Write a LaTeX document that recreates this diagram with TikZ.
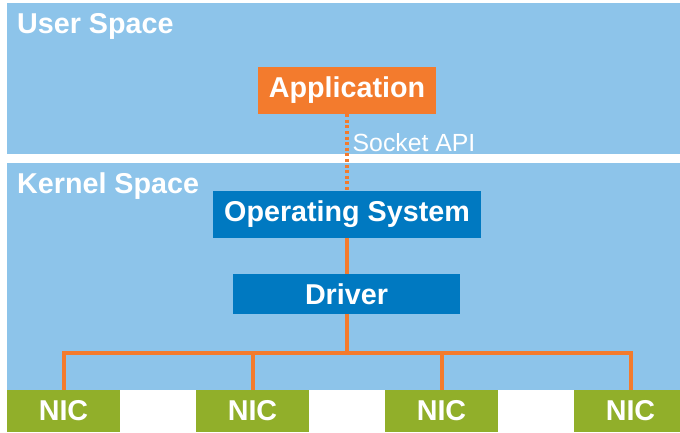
\documentclass[tikz,border=0pt]{standalone}
\usepackage{fontspec}
\setmainfont{Liberation Sans}
\definecolor{spaceblue}{RGB}{141,196,234}
\definecolor{apporange}{RGB}{243,123,45}
\definecolor{kernblue}{RGB}{0,121,193}
\definecolor{nicgreen}{RGB}{145,175,42}
\tikzset{
  region/.style={fill=spaceblue, draw=none},
  regionlabel/.style={anchor=base west, inner sep=0pt, text=white, font=\fontsize{28.7}{30}\selectfont\bfseries},
  block/.style={rectangle, inner sep=0pt, text=white, font=\fontsize{28.7}{30}\selectfont\bfseries},
  appbox/.style={block, fill=apporange},
  osbox/.style={block, fill=kernblue},
  nicbox/.style={block, fill=nicgreen, minimum width=113pt, minimum height=42pt},
  wire/.style={draw=apporange, line width=4pt},
  apiwire/.style={draw=apporange, line width=4pt, dash pattern=on 3pt off 2.6pt},
  apilabel/.style={anchor=base west, inner sep=0pt, text=white, font=\fontsize{24.8}{26}\selectfont},
}
\begin{document}
\begin{tikzpicture}[x=1pt, y=-1pt]
\useasboundingbox (0,0) rectangle (680,432);
% user and kernel regions
\fill[region] (7,3) rectangle (680,154);
\fill[region] (7,163) rectangle (680,389.5);
\node[regionlabel] (userlbl) at (17,33) {User Space};
\node[regionlabel] (kernlbl) at (17,193) {Kernel Space};
% software stack
\node[appbox, minimum width=178pt, minimum height=47pt] (app) at (347,90.5) {Application};
\node[osbox, minimum width=268pt, minimum height=47pt] (os) at (347,214.5) {Operating System};
\node[osbox, minimum width=227pt, minimum height=40pt] (drv) at (346.5,294) {Driver};
% network cards
\node[nicbox] (nic1) at (63.5,411) {NIC};
\node[nicbox] (nic2) at (252.5,411) {NIC};
\node[nicbox] (nic3) at (441.5,411) {NIC};
\node[nicbox] (nic4) at (630.5,411) {NIC};
% connectors
\draw[apiwire] (app.south) -- (os.north);
\node[apilabel] (api) at (352.5,151.5) {Socket API};
\coordinate (bus) at (347,353);
\draw[wire] (os.south) -- (drv.north -| os.south);
\draw[wire] (drv.south -| os.south) -- (bus);
\draw[wire] (nic1.north) |- (bus) -| (nic4.north);
\draw[wire] (nic2.north) -- (nic2.north |- bus);
\draw[wire] (nic3.north) -- (nic3.north |- bus);
\end{tikzpicture}
\end{document}
